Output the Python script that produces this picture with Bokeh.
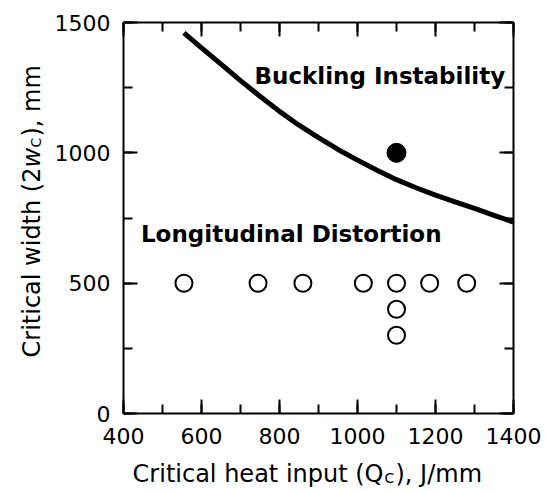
import math
from bokeh.plotting import figure
from bokeh.models import Range1d, LinearAxis, SingleIntervalTicker, Label
from bokeh.embed import file_html
from bokeh.resources import INLINE

# ---- data ----
curve_q = [555, 600, 650, 700, 750, 800, 850, 900, 950, 1000,
           1050, 1100, 1150, 1200, 1250, 1300, 1350, 1400]
curve_w = [1460, 1403, 1340, 1277, 1217, 1159, 1106, 1058, 1013, 972,
           933, 897, 866, 838, 812, 787, 760, 734]

open_q = [555, 745, 860, 1015, 1100, 1185, 1280, 1100, 1100]
open_w = [500, 500, 500, 500, 500, 500, 500, 400, 300]

filled_q = [1100]
filled_w = [1000]

x_tick_values = [400, 600, 800, 1000, 1200, 1400]
y_tick_values = [0, 500, 1000, 1500]

region_labels = ["Buckling Instability", "Longitudinal Distortion"]

# ---- layout (canvas pixels of the plotting box) ----
W, H = 546, 491
LEFT, RIGHT_PX, TOP, BOTTOM_PX = 123, 513, 22, 413
X0, X1 = 400, 1400
Y0, Y1 = 0, 1500
FONT = "DejaVu Sans"

sx = (RIGHT_PX - LEFT) / (X1 - X0)
sy = (BOTTOM_PX - TOP) / (Y1 - Y0)


def dx(px):
    return X0 + (px - LEFT) / sx


def dy(py):
    return Y0 + (BOTTOM_PX - py) / sy


p = figure(width=W, height=H, output_backend="svg", toolbar_location=None,
           x_range=Range1d(dx(0), dx(W)), y_range=Range1d(dy(H), dy(0)),
           x_axis_location=None, y_axis_location=None, min_border=0)
p.xgrid.visible = False
p.ygrid.visible = False
p.outline_line_color = None
p.background_fill_color = "white"
p.border_fill_color = "white"


def style_axis(ax, show_labels, standoff):
    ax.axis_line_width = 2
    ax.axis_line_color = "black"
    ax.major_tick_line_width = 2
    ax.minor_tick_line_width = 2
    ax.major_tick_line_color = "black"
    ax.minor_tick_line_color = "black"
    ax.major_tick_in = 14
    ax.major_tick_out = 0
    ax.minor_tick_in = 9
    ax.minor_tick_out = 0
    ax.axis_label = None
    if show_labels:
        ax.major_label_text_font = FONT
        ax.major_label_text_font_size = "22px"
        ax.major_label_text_color = "black"
        ax.major_label_standoff = standoff
    else:
        ax.major_label_text_font_size = "0px"
        ax.major_label_standoff = 0


def xt():
    return SingleIntervalTicker(interval=200, num_minor_ticks=2)


def yt():
    return SingleIntervalTicker(interval=500, num_minor_ticks=2)


bottom = LinearAxis(ticker=xt(), fixed_location=Y0, bounds=(X0, X1))
style_axis(bottom, True, 14)
p.add_layout(bottom, "below")
top = LinearAxis(ticker=xt(), fixed_location=Y1, bounds=(X0, X1))
style_axis(top, False, 0)
top.major_label_overrides = {v: "" for v in x_tick_values}
p.add_layout(top, "above")
left = LinearAxis(ticker=yt(), fixed_location=X0, bounds=(Y0, Y1))
style_axis(left, True, 13)
p.add_layout(left, "left")
right = LinearAxis(ticker=yt(), fixed_location=X1, bounds=(Y0, Y1))
style_axis(right, False, 0)
right.major_label_overrides = {v: "" for v in y_tick_values}
p.add_layout(right, "right")

# ---- data marks ----
p.line(curve_q, curve_w, line_width=5, line_color="black", line_join="round")
p.scatter(open_q, open_w, marker="circle", size=17, fill_color="white",
          line_color="black", line_width=2)
p.scatter(filled_q, filled_w, marker="circle", size=19, fill_color="black",
          line_color="black", line_width=1)


def lab(px, py, text, size, align, style="normal", angle=0.0):
    p.add_layout(Label(x=dx(px), y=dy(py), text=text, text_font=FONT,
                       text_font_size=size, text_font_style=style,
                       text_align=align, text_baseline="alphabetic",
                       text_color="black", angle=angle))


# ---- region labels ----
lab(254, 75, region_labels[0], "23px", "left", "bold")
lab(441, 233, region_labels[1], "23px", "right", "bold")

# ---- x axis title: Critical heat input (Q_C), J/mm ----
xb = 473  # baseline (canvas px)
xj = 383  # join after "Q"
lab(xj, xb, "Critical heat input (Q", "24px", "right")
lab(xj + 1, xb + 4, "C", "14px", "left")
lab(xj + 12, xb, "), J/mm", "24px", "left")

# ---- y axis title: Critical width (2w_C), mm ----
yb = 31   # baseline x (canvas px)
yj = 167  # join after "(2"
ang = math.pi / 2
lab(yb, yj, "Critical width (2", "24px", "right", angle=ang)
lab(yb, yj, "w", "24px", "left", "italic", angle=ang)
lab(yb + 4, yj - 20, "C", "14px", "left", angle=ang)
lab(yb, yj - 31, "), mm", "24px", "left", angle=ang)

open("out.html", "w").write(file_html(p, INLINE))
